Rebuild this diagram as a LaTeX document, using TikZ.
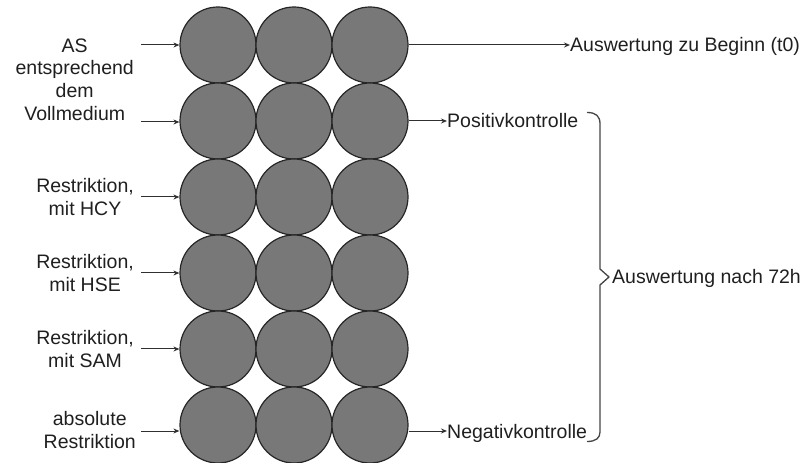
\documentclass[tikz,border=0pt]{standalone}
\usepackage{fontspec}
\setmainfont{Liberation Sans}
\usetikzlibrary{arrows.meta}
\definecolor{wellfill}{HTML}{787878}
\definecolor{wellline}{HTML}{262626}
\definecolor{inkline}{HTML}{303030}
\begin{document}
\begin{tikzpicture}[x=1bp,y=-1bp,
  every node/.style={font=\fontsize{19.5bp}{22.7bp}\selectfont, text=black!88},
  well/.style={circle, draw=wellline, fill=wellfill, line width=1.2bp,
    minimum size=76bp, inner sep=0pt},
  leftlabel/.style={anchor=east, align=center, inner sep=0pt},
  rightlabel/.style={anchor=west, inner sep=0pt,
    text height=14bp, text depth=0bp},
  feed/.style={draw=inkline, line width=1bp,
    -{Stealth[length=6bp,width=5bp]}},
  bracket/.style={draw=inkline!90, line width=1.3bp, line join=round}
]
\useasboundingbox (0,0) rectangle (807,463);

% plate: six rows of three wells
\foreach \r/\y in {1/45,2/121,3/197,4/273,5/349,6/425}{
  \foreach \c/\x in {1/218,2/294,3/370}{
    \node[well] (c\r\c) at (\x,\y) {};
  }
}

% row descriptions on the left
\node[leftlabel] (l12) at (134,79.5) {AS\\entsprechend\\dem\\Vollmedium};
\node[leftlabel] (l3) at (134,197) {Restriktion,\\mit HCY};
\node[leftlabel] (l4) at (134,273) {Restriktion,\\mit HSE};
\node[leftlabel] (l5) at (134,349) {Restriktion,\\mit SAM};
\node[leftlabel] (l6) at (136,430) {absolute\\Restriktion};

% arrow starts on the left
\coordinate (in1) at (141,45);
\coordinate (in2) at (141,122);
\coordinate (in3) at (141,197);
\coordinate (in4) at (141,273);
\coordinate (in5) at (141,349);
\coordinate (in6) at (141,431);

\draw[feed] (in1) -- (c11.west);
\draw[feed] (in2) -- (c21.west |- in2);
\draw[feed] (in3) -- (c31.west);
\draw[feed] (in4) -- (c41.west);
\draw[feed] (in5) -- (c51.west);
\draw[feed] (in6) -- (c61.west |- in6);

% outcomes on the right
\node[rightlabel] (t0) at (570,45) {Auswertung zu Beginn (t0)};
\node[rightlabel] (pos) at (447,121) {Positivkontrolle};
\node[rightlabel] (neg) at (447,431) {Negativkontrolle};

\draw[feed] (c13.east) -- (t0.west);
\draw[feed] (c23.east) -- (pos.west);
\draw[feed] (c63.east |- neg.west) -- (neg.west);

% curly bracket gathering the controls
\coordinate (btop) at (587,112.5);
\coordinate (bmid) at (609,277);
\coordinate (bbot) at (587,441.5);
\draw[bracket] (btop) .. controls (596,112.5) and (600,116) .. (600,124)
  -- (600,269) -- (bmid) -- (600,285) -- (600,432)
  .. controls (600,438) and (596,441.5) .. (bbot);
\node[rightlabel] (t72) at (612,277) {Auswertung nach 72h};
\end{tikzpicture}
\end{document}
